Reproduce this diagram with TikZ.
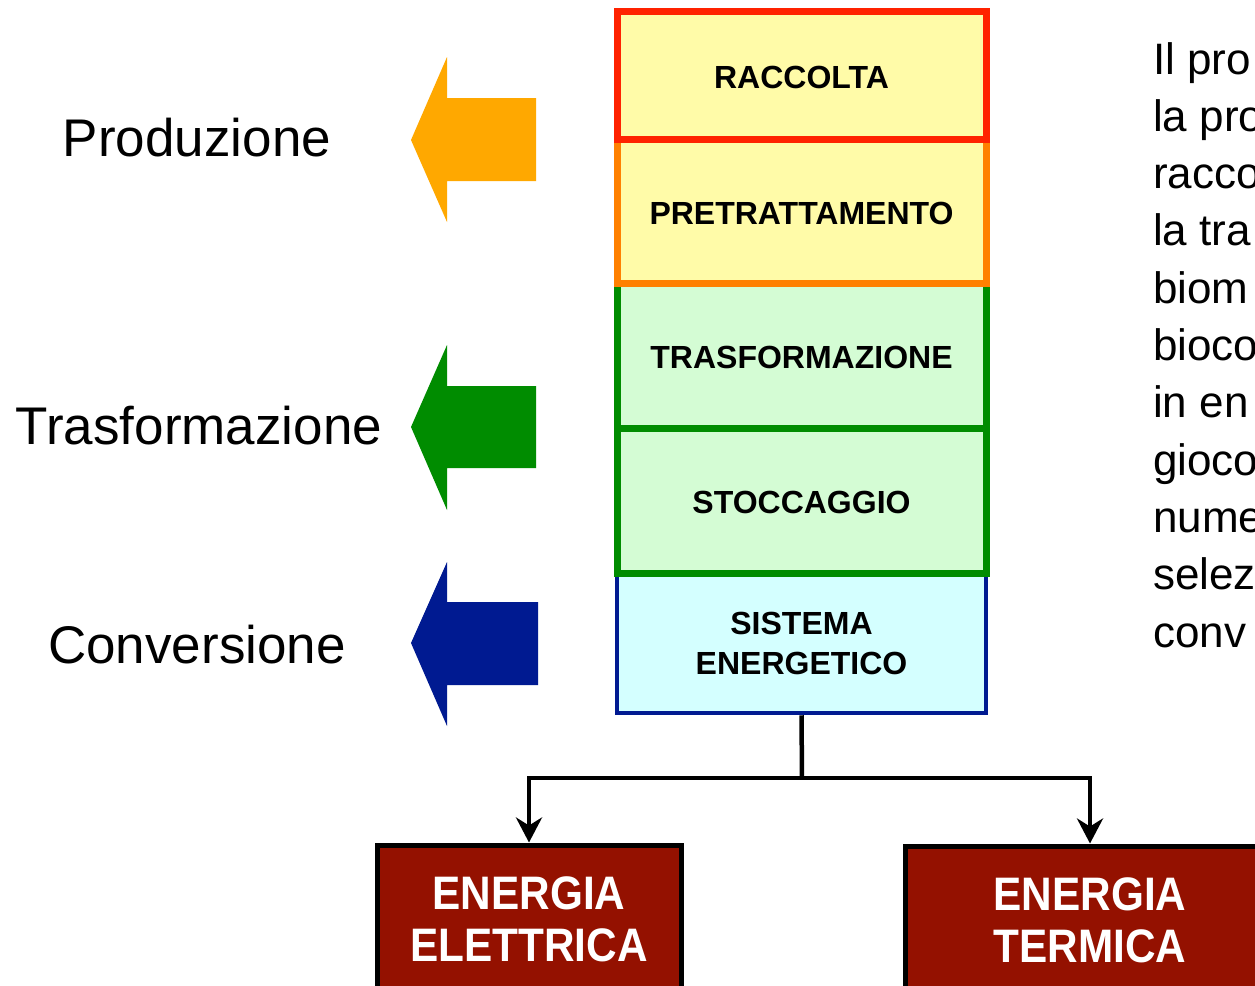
\documentclass[tikz,border=0pt]{standalone}
\usepackage{fontspec}
\setmainfont{Liberation Sans}
\newfontfamily\narrowfont[FakeStretch=0.9]{Liberation Sans}
\usetikzlibrary{arrows.meta}
\definecolor{cRed}{RGB}{255,34,0}
\definecolor{cOrange}{RGB}{255,128,0}
\definecolor{cGreen}{RGB}{0,140,0}
\definecolor{cBlue}{RGB}{0,26,145}
\definecolor{fYellow}{RGB}{255,251,168}
\definecolor{fGreen}{RGB}{212,252,212}
\definecolor{fCyan}{RGB}{212,255,255}
\definecolor{aOrange}{RGB}{255,168,0}
\definecolor{dRed}{RGB}{148,17,0}
\begin{document}
\begin{tikzpicture}[x=1pt,y=-1pt,
  stage/.style={draw, line width=7pt, minimum width=369pt, inner sep=0pt, align=center,
    text height=26pt, font=\fontsize{32}{40}\selectfont\bfseries},
  outbox/.style={draw=black, fill=dRed, line width=5pt, inner sep=0pt, align=center,
    text=white, font=\narrowfont\fontsize{47}{52}\selectfont\bfseries},
  phase/.style={anchor=base, inner sep=0pt, font=\fontsize{53}{60}\selectfont},
  rtext/.style={anchor=base west, inner sep=0pt, font=\fontsize{44}{53}\selectfont},
  conn/.style={line width=4.5pt, draw=black},
  tip/.style={-{Stealth[length=25pt,width=26pt,inset=8pt]}}
]
\useasboundingbox (0,0) rectangle (1255,985);
\clip (0,0) rectangle (1255,985);
\fill[white] (0,0) rectangle (1255,985);

% stages, bottom first so upper borders lie on top
\node[stage, draw=cBlue, fill=fCyan, line width=4.5pt, minimum height=140pt, text height=] (sistema) at (801.5,643) {SISTEMA\\ENERGETICO};
\node[stage, draw=cGreen, fill=fGreen, minimum height=145pt] (stocc) at (801.5,500.5) {STOCCAGGIO};
\node[stage, draw=cGreen, fill=fGreen, minimum height=145pt] (trasf) at (801.5,355.5) {TRASFORMAZIONE};
\node[stage, draw=cOrange, fill=fYellow, minimum height=143.5pt] (pretr) at (801.5,211.25) {PRETRATTAMENTO};
\node[stage, draw=cRed, fill=fYellow, minimum height=128.5pt] (racc) at (801.5,75.25) {RACCOLTA};

% block arrows
\fill[aOrange] (536,98) -- (447,98) -- (447,57) -- (411,140) -- (447,222) -- (447,181) -- (536,181) -- cycle;
\fill[cGreen] (536,386) -- (447,386) -- (447,345) -- (411,427) -- (447,510) -- (447,468) -- (536,468) -- cycle;
\fill[cBlue] (538,602) -- (447,602) -- (447,562) -- (411,643) -- (447,726) -- (447,685) -- (538,685) -- cycle;

% phase labels
\node[phase] (prod) at (197,156) {Produzione};
\node[phase] (trasl) at (199,444) {Trasformazione};
\node[phase] (conv) at (197,663) {Conversione};

% output boxes
\node[outbox, minimum width=304pt, minimum height=148pt] (elet) at (529,919) {ENERGIA\\ELETTRICA};
\node[outbox, minimum width=370pt, minimum height=148pt] (term) at (1090,920) {ENERGIA\\TERMICA};

% connectors
\coordinate (split) at (802,778);
\draw[conn] (sistema.south) -- (split);
\draw[conn, tip] (split) -| (elet.north);
\draw[conn, tip] (split) -| (term.north);

% right-hand text (cut by the picture edge, as in the reference)
\foreach \t [count=\i] in {Il pro, la pro, racco, la tra, biom, bioco, in en, gioco, nume, selez, conv}
  \node[rtext] (r\i) at (1153,{74+57.3*(\i-1)}) {\t};
\end{tikzpicture}
\end{document}
